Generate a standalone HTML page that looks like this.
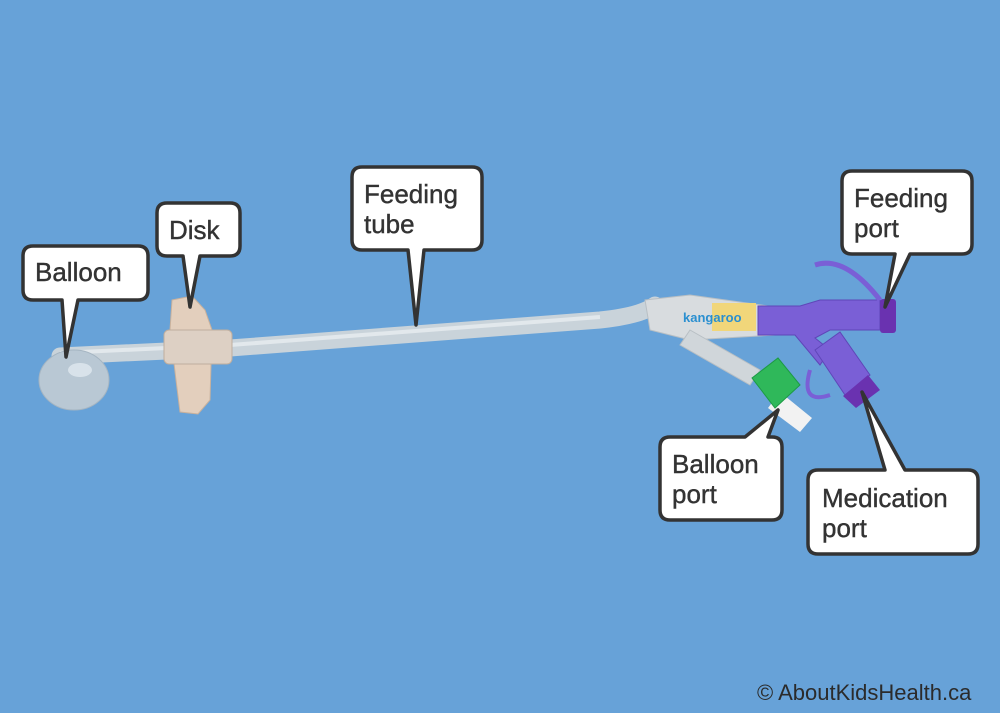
<!DOCTYPE html>
<html><head><style>
html,body{margin:0;padding:0;background:#67a2d8;}
svg{display:block}
text{font-family:"Liberation Sans",sans-serif;font-size:26px;fill:#333;stroke:#333;stroke-width:0.4px;}
</style></head><body>
<svg width="1000" height="713" viewBox="0 0 1000 713" xmlns="http://www.w3.org/2000/svg">
<rect width="1000" height="713" fill="#67a2d8"/>
<!-- tube -->
<path d="M60 356 L230 348 Q450 332 600 320 Q640 316 655 305" stroke="#c9d3da" stroke-width="17" fill="none" stroke-linecap="round"/>
<path d="M60 353 L230 345 Q450 329 600 317" stroke="#e2e8ec" stroke-width="4" fill="none"/>
<!-- balloon -->
<ellipse cx="74" cy="380" rx="35" ry="30" fill="#b9c8d4" stroke="#a5b5c2"/>
<ellipse cx="80" cy="370" rx="12" ry="7" fill="#d8e2ea"/>
<!-- disk -->
<path d="M172 300 L192 296 L205 310 L212 330 L210 400 L198 414 L180 412 L176 380 L170 330 Z" fill="#e3cfbd" stroke="#c9b19c"/>
<rect x="164" y="330" width="68" height="34" rx="5" fill="#ddd0c4" stroke="#bfae9e"/>
<!-- handle -->
<path d="M645 300 L690 295 L775 307 L775 335 L690 340 L650 330 Z" fill="#d8dcdf" stroke="#b8bfc4"/>
<path d="M690 330 L760 370 L750 385 L680 345 Z" fill="#d0d6da" stroke="#b8bfc4"/>
<rect x="712" y="303" width="44" height="28" fill="#f1d67a"/>
<text x="683" y="322" style="font-size:13px;font-weight:bold;fill:#2a8fd0;stroke:none">kangaroo</text>
<!-- purple Y -->
<path d="M758 306 L800 306 L820 300 L880 300 L880 330 L830 330 L815 338 L830 350 L820 365 L795 335 L758 335 Z" fill="#7a5fd6" stroke="#5f46b8"/>
<path d="M815 265 Q845 255 880 300" stroke="#7a5fd6" stroke-width="5" fill="none"/>
<rect x="880" y="299" width="16" height="34" rx="3" fill="#6a32b0"/>
<path d="M815 350 L840 332 L870 375 L845 395 Z" fill="#7a5fd6" stroke="#5f46b8"/>
<path d="M843 396 L868 375 L880 390 L856 408 Z" fill="#6a32b0"/>
<path d="M810 370 Q800 405 830 395" stroke="#7a5fd6" stroke-width="4" fill="none"/>
<!-- green balloon port -->
<path d="M780 392 L812 418 L800 432 L768 408 Z" fill="#f2f2f2"/>
<path d="M752 378 L778 358 L800 385 L775 408 Z" fill="#2fb85a" stroke="#1d9a45"/>
<!-- callouts -->
<g fill="#fff" stroke="#333" stroke-width="3.5" stroke-linejoin="round">
<path d="M33 246 H138 Q148 246 148 256 V290 Q148 300 138 300 H78 L66 357 L62 300 H33 Q23 300 23 290 V256 Q23 246 33 246 Z"/>
<path d="M167 203 H230 Q240 203 240 213 V246 Q240 256 230 256 H200 L190 307 L183 256 H167 Q157 256 157 246 V213 Q157 203 167 203 Z"/>
<path d="M362 167 H472 Q482 167 482 177 V240 Q482 250 472 250 H424 L416 325 L408 250 H362 Q352 250 352 240 V177 Q352 167 362 167 Z"/>
<path d="M852 171 H962 Q972 171 972 181 V244 Q972 254 962 254 H910 L885 307 L895 254 H852 Q842 254 842 244 V181 Q842 171 852 171 Z"/>
<path d="M670 437 H745 L778 410 L768 437 H772 Q782 437 782 447 V510 Q782 520 772 520 H670 Q660 520 660 510 V447 Q660 437 670 437 Z"/>
<path d="M818 470 H885 L862 392 L905 470 H968 Q978 470 978 480 V544 Q978 554 968 554 H818 Q808 554 808 544 V480 Q808 470 818 470 Z"/>
</g>
<text x="35" y="281">Balloon</text>
<text x="169" y="239">Disk</text>
<text x="364" y="203">Feeding</text>
<text x="364" y="233">tube</text>
<text x="854" y="207">Feeding</text>
<text x="854" y="237">port</text>
<text x="672" y="473">Balloon</text>
<text x="672" y="503">port</text>
<text x="822" y="507">Medication</text>
<text x="822" y="537">port</text>
<text x="757" y="700" style="font-size:22px;fill:#2b2b2b;stroke:none">© AboutKidsHealth.ca</text>
</svg>
</body></html>
